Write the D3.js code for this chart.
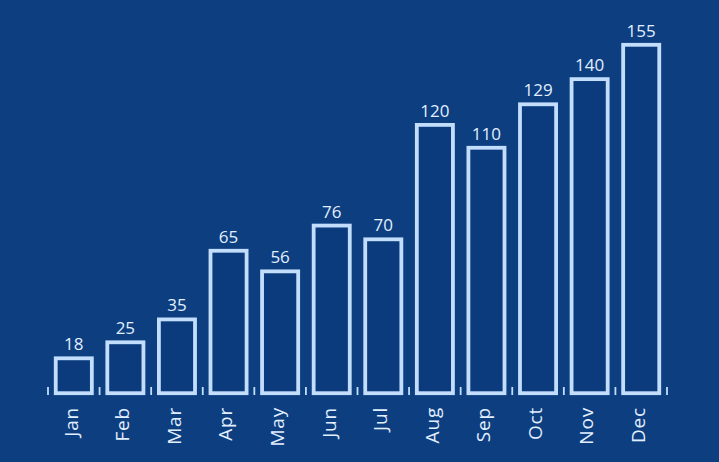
<!DOCTYPE html>
<html>
<head>
<meta charset="utf-8">
<script src="https://cdn.jsdelivr.net/npm/d3@7"></script>
<style>
  html, body { margin: 0; padding: 0; background: #0c3e80; }
  svg { display: block; }
</style>
</head>
<body>
<svg id="chart" width="719" height="462"></svg>
<script>
const months = ["Jan","Feb","Mar","Apr","May","Jun","Jul","Aug","Sep","Oct","Nov","Dec"];
const values = [18, 25, 35, 65, 56, 76, 70, 120, 110, 129, 140, 155];

const W = 719, H = 462;
const bg = "#0c3e80";
const lineColor = "#c2defc";
const textColor = "#e2efff";

const svg = d3.select("#chart");
svg.append("rect").attr("width", W).attr("height", H).attr("fill", bg);

const x = d3.scaleBand().domain(months).range([48, 667]).paddingInner(0.3).paddingOuter(0.15);
const y = d3.scaleLinear().domain([0, 155]).range([399.5, 44.8]);
const baseY = 393.2;

const data = months.map((m, i) => ({ m, v: values[i] }));

// bars (outlined)
svg.append("g").selectAll("rect").data(data).join("rect")
  .attr("x", d => x(d.m))
  .attr("y", d => y(d.v))
  .attr("width", x.bandwidth())
  .attr("height", d => baseY - y(d.v))
  .attr("fill", "#0b3b7c")
  .attr("stroke", lineColor)
  .attr("stroke-width", 3.8);

// value labels
svg.append("g").selectAll("text").data(data).join("text")
  .attr("x", d => x(d.m) + x.bandwidth() / 2)
  .attr("y", d => y(d.v) - 8)
  .attr("text-anchor", "middle")
  .attr("fill", textColor)
  .attr("font-family", "'Open Sans', sans-serif")
  .attr("font-size", 17)
  .attr("font-weight", 500)
  .text(d => d.v);

// separator ticks at band boundaries
const bounds = months.map(m => x(m) - x.step() * x.paddingInner() / 2);
bounds.push(x(months[months.length - 1]) + x.bandwidth() + x.step() * x.paddingInner() / 2);
svg.append("g").selectAll("line").data(bounds).join("line")
  .attr("x1", d => d).attr("x2", d => d)
  .attr("y1", 387).attr("y2", 395)
  .attr("stroke", lineColor)
  .attr("stroke-width", 1.8);

// month axis labels
const axis = svg.append("g")
  .attr("transform", "translate(0,407)")
  .call(d3.axisBottom(x).tickSize(0).tickPadding(0));
axis.select(".domain").remove();
axis.selectAll("text")
  .attr("fill", textColor)
  .attr("font-family", "'Open Sans', sans-serif")
  .attr("font-size", 19)
  .attr("font-weight", 500)
  .attr("letter-spacing", 0.8)
  .attr("text-anchor", "end")
  .attr("transform", "rotate(-90)")
  .attr("x", 0)
  .attr("y", 0)
  .attr("dx", 0)
  .attr("dy", "0.2em");
</script>
</body>
</html>
